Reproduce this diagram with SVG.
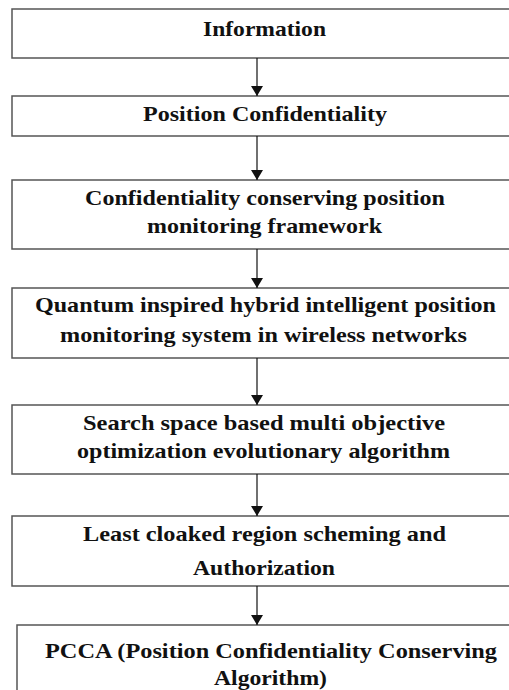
<svg xmlns="http://www.w3.org/2000/svg" width="509" height="690" viewBox="0 0 509 690">
  <style>
    .box { fill: #ffffff; stroke: #555555; stroke-width: 1.5; }
    .lbl { font-family: "Liberation Serif", "Times New Roman", serif; font-weight: bold; font-size: 21px; fill: #111111; }
    .link { stroke: #111111; stroke-width: 1.2; fill: none; marker-end: url(#head); }
  </style>
  <defs>
    <!-- solid triangular head, drawn pointing along +x so orient="auto" turns it to the line direction -->
    <marker id="head" markerUnits="userSpaceOnUse" markerWidth="10" markerHeight="12" refX="10" refY="6" orient="auto" viewBox="0 0 10 12">
      <path d="M0,0 L10,6 L0,12 Z" fill="#111111"/>
    </marker>
  </defs>
  <rect width="509" height="690" fill="#ffffff"/>

  <!-- flow steps -->
  <g id="information">
    <rect class="box" x="12" y="9" width="520" height="49"/>
    <text class="lbl" x="203" y="36" textLength="123" lengthAdjust="spacingAndGlyphs">Information</text>
  </g>
  <g id="position-confidentiality">
    <rect class="box" x="12" y="96" width="520" height="40"/>
    <text class="lbl" x="143" y="121" textLength="244" lengthAdjust="spacingAndGlyphs">Position Confidentiality</text>
  </g>
  <g id="framework">
    <rect class="box" x="12" y="180" width="520" height="69"/>
    <text class="lbl" x="85" y="205" textLength="360" lengthAdjust="spacingAndGlyphs">Confidentiality conserving position</text>
    <text class="lbl" x="147" y="233" textLength="235" lengthAdjust="spacingAndGlyphs">monitoring framework</text>
  </g>
  <g id="quantum-system">
    <rect class="box" x="12" y="288" width="520" height="70"/>
    <text class="lbl" x="35" y="312" textLength="461" lengthAdjust="spacingAndGlyphs">Quantum inspired hybrid intelligent position</text>
    <text class="lbl" x="60" y="342" textLength="407" lengthAdjust="spacingAndGlyphs">monitoring system in wireless networks</text>
  </g>
  <g id="search-space">
    <rect class="box" x="12" y="405" width="520" height="69"/>
    <text class="lbl" x="83" y="430" textLength="362" lengthAdjust="spacingAndGlyphs">Search space based multi objective</text>
    <text class="lbl" x="77" y="458" textLength="373" lengthAdjust="spacingAndGlyphs">optimization evolutionary algorithm</text>
  </g>
  <g id="cloaked-region">
    <rect class="box" x="12" y="516" width="520" height="70"/>
    <text class="lbl" x="83" y="541" textLength="363" lengthAdjust="spacingAndGlyphs">Least cloaked region scheming and</text>
    <text class="lbl" x="193" y="575" textLength="142" lengthAdjust="spacingAndGlyphs">Authorization</text>
  </g>
  <g id="pcca">
    <rect class="box" x="17" y="625" width="520" height="80"/>
    <text class="lbl" x="45" y="658" textLength="452" lengthAdjust="spacingAndGlyphs">PCCA (Position Confidentiality Conserving</text>
    <text class="lbl" x="214" y="685" textLength="113" lengthAdjust="spacingAndGlyphs">Algorithm)</text>
  </g>

  <!-- connectors -->
  <g id="connectors">
    <line class="link" x1="257" y1="58" x2="257" y2="96"/>
    <line class="link" x1="257" y1="136" x2="257" y2="180"/>
    <line class="link" x1="257" y1="249" x2="257" y2="288"/>
    <line class="link" x1="257" y1="358" x2="257" y2="405"/>
    <line class="link" x1="257" y1="474" x2="257" y2="516"/>
    <line class="link" x1="257" y1="586" x2="257" y2="625"/>
  </g>
</svg>
